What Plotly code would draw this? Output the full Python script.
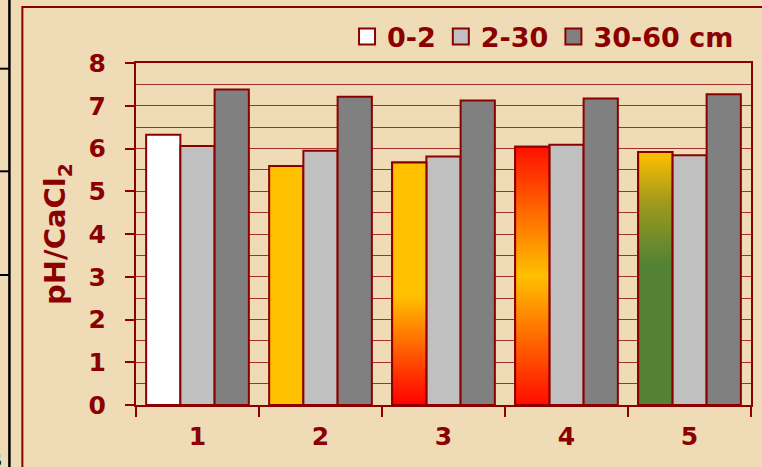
import plotly.graph_objects as go

# Soil pH (CaCl2) by site and sampling depth
sites = [1, 2, 3, 4, 5]
site_labels = ["1", "2", "3", "4", "5"]
depths = ["0-2", "2-30", "30-60 cm"]
ph_0_2 = [6.32, 5.59, 5.67, 6.04, 5.92]
ph_2_30 = [6.06, 5.95, 5.81, 6.09, 5.84]
ph_30_60 = [7.38, 7.21, 7.12, 7.17, 7.27]

# fill of the top-layer bar at each site (solid colour or vertical gradient, bottom -> top)
top_fill = [
    "#FFFFFF",
    "#FFC000",
    [[0.0, "#FF0000"], [0.18, "#FF4A00"], [0.45, "#FFC000"], [1.0, "#FFC000"]],
    [[0.0, "#FF0C00"], [0.5, "#FFC000"], [1.0, "#FF1000"]],
    [[0.0, "#548235"], [0.56, "#548235"], [0.8, "#A09A1C"], [1.0, "#FFC000"]],
]
legend_colors = ["#FFFFFF", "#C0C0C0", "#808080"]

DARK_RED = "#8B0000"
GRID = "#A2302C"
BG = "#EFDBB5"
FONT = "DejaVu Sans"
BARGAP = 0.165

solid_colors = [c if isinstance(c, str) else "#FFC000" for c in top_fill]

fig = go.Figure()
series = [(ph_0_2, solid_colors), (ph_2_30, "#C0C0C0"), (ph_30_60, "#808080")]
for name, (vals, col) in zip(depths, series):
    fig.add_trace(go.Bar(
        x=sites, y=vals, name=name, showlegend=False,
        marker=dict(color=col, line=dict(color=DARK_RED, width=2)),
        hoverinfo="skip",
    ))

# gradient-filled top-layer bars drawn over the matching bar slot
bar_w = (1 - BARGAP) / len(depths)
for s, v, f in zip(sites, ph_0_2, top_fill):
    if isinstance(f, str):
        continue
    left = s - (1 - BARGAP) / 2
    right = left + bar_w
    fig.add_trace(go.Scatter(
        x=[left, left, right, right, left], y=[0, v, v, 0, 0],
        mode="lines", fill="toself",
        fillgradient=dict(type="vertical", colorscale=f, start=0, stop=v),
        line=dict(color=DARK_RED, width=2),
        showlegend=False, hoverinfo="skip",
    ))

# legend keys (larger square swatches)
for name, col in zip(depths, legend_colors):
    fig.add_trace(go.Scatter(
        x=[None], y=[None], mode="markers", name=name,
        marker=dict(symbol="square", size=16, color=col, line=dict(color=DARK_RED, width=2)),
        hoverinfo="skip",
    ))

W, H = 762, 467
L, R, T, B = 136, 9, 63, 62
pw, ph = W - L - R, H - T - B


def px(x):
    return (x - L) / pw


def py(y):
    return (H - B - y) / ph


shapes = [
    # outer frame of the chart
    dict(type="rect", xref="paper", yref="paper", x0=px(22), x1=px(800), y0=py(7), y1=py(520),
         line=dict(color=DARK_RED, width=2), fillcolor="rgba(0,0,0,0)", layer="below"),
    # neighbouring table rules at the left
    dict(type="line", xref="paper", yref="paper", x0=px(9), x1=px(9), y0=py(-5), y1=py(480),
         line=dict(color="#000000", width=2.5)),
]
for yy in [68.7, 171.3, 275]:
    shapes.append(dict(type="line", xref="paper", yref="paper", x0=px(-2), x1=px(9), y0=py(yy), y1=py(yy),
                       line=dict(color="#000000", width=2)))

bounds = [s - 0.5 for s in sites] + [sites[-1] + 0.5]

fig.update_layout(
    width=W, height=H,
    margin=dict(l=L, r=R, t=T, b=B),
    paper_bgcolor=BG, plot_bgcolor="rgba(0,0,0,0)",
    barmode="group", bargap=BARGAP, bargroupgap=0,
    font=dict(family=FONT, color=DARK_RED, weight="bold"),
    legend=dict(
        orientation="h", xanchor="right", yanchor="middle", x=px(741), y=py(37),
        font=dict(family=FONT, size=27, color=DARK_RED, weight="bold"),
        bgcolor="rgba(0,0,0,0)", itemclick=False, itemsizing="trace",
    ),
    shapes=shapes,
    annotations=[dict(text="B", xref="paper", yref="paper", x=px(4), y=py(459),
                      xanchor="right", yanchor="middle", showarrow=False,
                      font=dict(family="Liberation Sans", size=22, color="#000000", weight="bold"))],
    xaxis=dict(
        range=[0.5, 5.5], tickvals=sites, ticktext=site_labels, ticks="",
        tickfont=dict(family=FONT, size=25, color=DARK_RED, weight="bold"),
        ticklabelstandoff=8,
        showgrid=False, zeroline=False,
        showline=True, linecolor=DARK_RED, linewidth=2, mirror=True,
        minor=dict(tickvals=bounds, ticks="outside", ticklen=10, tickwidth=2, tickcolor=DARK_RED,
                   showgrid=False),
    ),
    yaxis=dict(
        range=[0, 8], dtick=1, ticks="outside", ticklen=9, tickwidth=2, tickcolor=DARK_RED,
        tickfont=dict(family=FONT, size=25, color=DARK_RED, weight="bold"),
        ticklabelstandoff=14,
        showgrid=True, gridcolor=GRID, gridwidth=1.3, zeroline=False,
        minor=dict(dtick=0.5, showgrid=True, gridcolor=GRID, gridwidth=1.3, ticks=""),
        showline=True, linecolor=DARK_RED, linewidth=2, mirror=True,
        title=dict(text="pH/CaCl<sub>2</sub>", standoff=14,
                   font=dict(family=FONT, size=29, color=DARK_RED, weight="bold")),
    ),
)

fig.write_html("out.html")
